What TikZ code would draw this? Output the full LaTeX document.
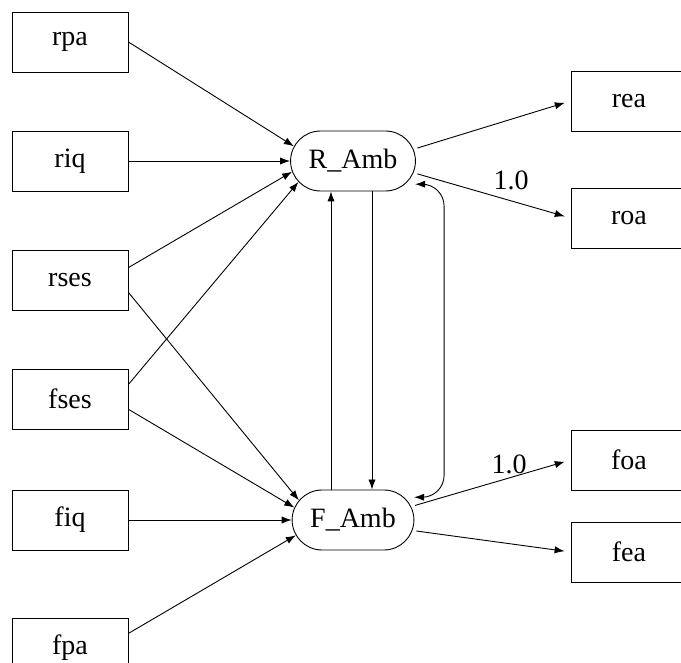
\documentclass[tikz,border=0pt]{standalone}
\usepackage{fontspec}
\setmainfont{Liberation Serif}
\usetikzlibrary{shapes.misc,arrows.meta}

\begin{document}
\begin{tikzpicture}[
        x=0.5pt, y=-0.5pt,
        every node/.style={font=\fontsize{14}{16}\selectfont},
        obs/.style={draw, rectangle, minimum width=58pt, minimum height=30pt, line width=0.45pt},
        latent/.style={draw, rounded rectangle, inner xsep=7.9pt, minimum height=30pt, line width=0.45pt},
        conn/.style={-{Latex[length=5pt,width=3.6pt]}, line width=0.45pt},
        cov/.style={{Latex[length=5pt,width=3.6pt]}-{Latex[length=5pt,width=3.6pt]}, line width=0.45pt,
            rounded corners=11pt, shorten <=5pt, shorten >=5pt}
    ]

    % Frame (boxes are cut at the edges)
    \path[use as bounding box] (0,0) rectangle (681,663);
    \clip (0,0) rectangle (681,663);

    % Observed predictors
    \node[obs] (rpa) at (70,42) {rpa};
    \node[obs] (riq) at (70,161) {riq};
    \node[obs] (rses) at (70,280) {rses};
    \node[obs] (fses) at (70,399) {fses};
    \node[obs] (fiq) at (70,520) {fiq};
    \node[obs] (fpa) at (70,648) {fpa};

    % Latent factors
    \node[latent] (ramb) at (353,161) {R\_Amb};
    \node[latent] (famb) at (353,520) {F\_Amb};

    % Indicators
    \node[obs] (rea) at (629,101) {rea};
    \node[obs] (roa) at (629,218) {roa};
    \node[obs] (foa) at (629,460) {foa};
    \node[obs] (fea) at (629,552) {fea};

    % Paths into R_Amb
    \draw[conn] (rpa.east) -- (ramb.166);
    \draw[conn] (riq.east) -- (ramb.west);
    \draw[conn] (rses.12) -- (ramb.190);
    \draw[conn] (fses.14) -- (ramb.201);

    % Paths into F_Amb
    \draw[conn] (rses.-12) -- (famb.160);
    \draw[conn] (fses.-10) -- (famb.168);
    \draw[conn] (fiq.east) -- (famb.west);
    \draw[conn] (fpa.14) -- (famb.195);

    % Loadings
    \draw[conn, shorten <=2pt, shorten >=3pt] (ramb.11) -- (rea.west);
    \draw[conn, shorten <=2pt, shorten >=3pt] (ramb.-11) -- (roa.west);
    \draw[conn, shorten <=2pt, shorten >=3pt] (famb.13) -- (foa.west);
    \draw[conn, shorten <=2pt, shorten >=3pt] (famb.-10) -- (fea.west);

    \node (fixr) at (511,180) {1.0};
    \node (fixf) at (509,464) {1.0};

    % Reciprocal paths and covariance
    \draw[conn] ([xshift=-11pt]famb.north) -- ([xshift=-11pt]ramb.south);
    \draw[conn] ([xshift=9.5pt]ramb.south) -- ([xshift=9.5pt]famb.north);
    \draw[cov] (ramb.-24) -| ([xshift=20pt]famb.24) -- (famb.24);

\end{tikzpicture}
\end{document}
